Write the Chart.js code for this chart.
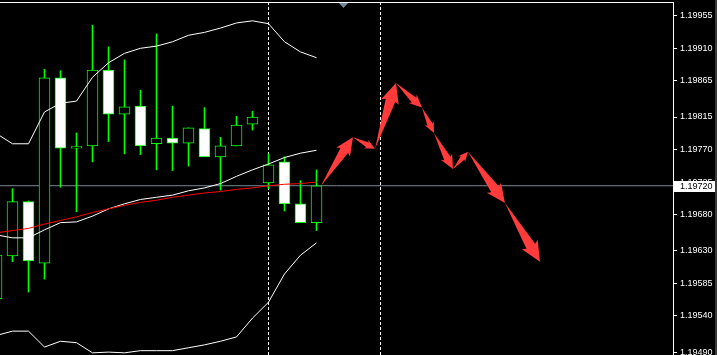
<!DOCTYPE html>
<html lang="en">
<head>
    <meta charset="UTF-8">
    <title>EURUSD forecast</title>
    <script src="https://cdn.jsdelivr.net/npm/chart.js"></script>
    <style>
        body {
            margin: 0;
            background: #000;
            overflow: hidden;
        }
        #priceChart {
            display: block;
            background: #000;
        }
    </style>
</head>
<body>
    <canvas id="priceChart" width="717" height="355"></canvas>

    <script>
        // candles, bar index 0..20 (index 0 is cut off at the left edge)
        const opens  = [1.19564, 1.19623, 1.19698, 1.19613, 1.19869, 1.19772, 1.19775, 1.19880, 1.19819, 1.19830, 1.19778, 1.19786, 1.19779, 1.19799, 1.19760, 1.19775, 1.19805, 1.19724, 1.19753, 1.19695, 1.19669];
        const highs  = [1.19630, 1.19716, 1.19699, 1.19881, 1.19879, 1.19793, 1.19942, 1.19912, 1.19894, 1.19852, 1.19930, 1.19830, 1.19800, 1.19828, 1.19787, 1.19816, 1.19823, 1.19764, 1.19760, 1.19727, 1.19742];
        const lows   = [1.19555, 1.19615, 1.19573, 1.19591, 1.19718, 1.19684, 1.19753, 1.19781, 1.19764, 1.19763, 1.19742, 1.19741, 1.19747, 1.19760, 1.19714, 1.19775, 1.19797, 1.19716, 1.19685, 1.19669, 1.19658];
        const closes = [1.19624, 1.19698, 1.19616, 1.19869, 1.19772, 1.19774, 1.19880, 1.19819, 1.19829, 1.19775, 1.19786, 1.19779, 1.19800, 1.19760, 1.19775, 1.19804, 1.19815, 1.19749, 1.19695, 1.19669, 1.19720];

        // bollinger bands + red moving average
        const bbUpper  = [1.19792, 1.19778, 1.19778, 1.19822, 1.19834, 1.19837, 1.19870, 1.19890, 1.19903, 1.19910, 1.19913, 1.19919, 1.19928, 1.19932, 1.19938, 1.19945, 1.19948, 1.19944, 1.19919, 1.19905, 1.19897];
        const bbMiddle = [1.19652, 1.19648, 1.19648, 1.19659, 1.19669, 1.19670, 1.19678, 1.19688, 1.19695, 1.19701, 1.19704, 1.19707, 1.19713, 1.19717, 1.19723, 1.19733, 1.19742, 1.19750, 1.19759, 1.19765, 1.19769];
        const bbLower  = [1.19513, 1.19519, 1.19519, 1.19497, 1.19505, 1.19503, 1.19489, 1.19490, 1.19489, 1.19492, 1.19492, 1.19492, 1.19496, 1.19500, 1.19505, 1.19511, 1.19537, 1.19559, 1.19598, 1.19624, 1.19641];
        const maRed    = [1.19655, 1.19658, 1.19661, 1.19667, 1.19672, 1.19677, 1.19683, 1.19688, 1.19693, 1.19697, 1.19700, 1.19704, 1.19707, 1.19710, 1.19712, 1.19715, 1.19717, 1.19720, 1.19722, 1.19723, 1.19725];

        // forecast arrows (x in bars, y in price)
        const arrowX = [20.28, 22.28, 23.66, 24.97, 26.59, 27.34, 28.53, 29.47, 31.78, 33.97];
        const arrowY = [1.19720, 1.19787, 1.19771, 1.19862, 1.19828, 1.19793, 1.19743, 1.19767, 1.19696, 1.19615];

        // vertical separators and price axis labels
        const separatorBars = [17, 24];
        const bidPrice = 1.19720;
        const yTicks = [1.19955, 1.19910, 1.19865, 1.19815, 1.19770, 1.19725, 1.19680, 1.19630, 1.19585, 1.19540, 1.19490];

        const xMin = 0.21875, xMax = 42.28125;
        const yMin = 1.19486, yMax = 1.19974;

        const green = '#00ff00';
        const bars = opens.map((o, i) => i);

        const wickData = bars.map(i => ({ x: i, y: [lows[i], highs[i]] }));
        const bodyData = bars.map(i => ({ x: i, y: [opens[i], closes[i]] }));
        const bodyFill = bars.map(i => closes[i] >= opens[i] ? '#000000' : '#ffffff');
        const line = (arr) => arr.map((v, i) => ({ x: i, y: v }));

        const datasets = [
            { type: 'line', data: arrowX.map((x, i) => ({ x: x, y: arrowY[i] })), showLine: false, pointRadius: 0, order: 0 },
            { type: 'line', data: line(maRed), borderColor: '#ff0000', borderWidth: 1, pointRadius: 0, order: 1 },
            { type: 'line', data: line(bbUpper), borderColor: '#ffffff', borderWidth: 1, pointRadius: 0, order: 2 },
            { type: 'line', data: line(bbMiddle), borderColor: '#ffffff', borderWidth: 1, pointRadius: 0, order: 2 },
            { type: 'line', data: line(bbLower), borderColor: '#ffffff', borderWidth: 1, pointRadius: 0, order: 2 },
            { type: 'bar', data: bodyData, backgroundColor: bodyFill, borderColor: green, borderWidth: 1, borderSkipped: false, barThickness: 11, grouped: false, order: 3 },
            { type: 'bar', data: wickData, backgroundColor: green, borderWidth: 0, barThickness: 1, grouped: false, order: 4 },
            { type: 'line', data: [{ x: xMin, y: bidPrice }, { x: xMax, y: bidPrice }], borderColor: '#778899', borderWidth: 1, pointRadius: 0, order: 6 }
        ];
        separatorBars.forEach(b => {
            datasets.push({ type: 'line', data: [{ x: b, y: yMin }, { x: b, y: yMax }], borderColor: '#ffffff', borderWidth: 1, borderDash: [3, 2], pointRadius: 0, order: 5 });
        });

        // draws the red forecast arrows between the path points
        const arrowPlugin = {
            id: 'arrowPlugin',
            afterDatasetsDraw(chart) {
                const pts = chart.getDatasetMeta(0).data;
                const ctx = chart.ctx;
                ctx.save();
                ctx.fillStyle = '#ff3b3b';
                for (let i = 0; i < pts.length - 1; i++) {
                    const a = pts[i], b = pts[i + 1];
                    const dx = b.x - a.x, dy = b.y - a.y;
                    const len = Math.sqrt(dx * dx + dy * dy);
                    const ux = dx / len, uy = dy / len;
                    const nx = -uy, ny = ux;
                    const head = Math.min(20, 5 + 0.22 * len);
                    const barb = head * 0.46;
                    const shaft = barb * 0.55;
                    const bx = b.x - ux * head, by = b.y - uy * head;
                    const jx = bx + ux * 2, jy = by + uy * 2;
                    ctx.beginPath();
                    ctx.moveTo(a.x, a.y);
                    ctx.lineTo(jx + nx * shaft, jy + ny * shaft);
                    ctx.lineTo(bx + nx * barb, by + ny * barb);
                    ctx.lineTo(b.x, b.y);
                    ctx.lineTo(bx - nx * barb, by - ny * barb);
                    ctx.lineTo(jx - nx * shaft, jy - ny * shaft);
                    ctx.closePath();
                    ctx.fill();
                }
                ctx.restore();
            }
        };

        // frame, bid label and the shift marker on top
        const framePlugin = {
            id: 'framePlugin',
            afterDraw(chart) {
                const ctx = chart.ctx;
                const area = chart.chartArea;
                const yScale = chart.scales.y;
                ctx.save();
                ctx.strokeStyle = '#ffffff';
                ctx.lineWidth = 1;
                ctx.beginPath();
                ctx.moveTo(0, area.top + 0.5);
                ctx.lineTo(area.right + 1, area.top + 0.5);
                ctx.stroke();

                ctx.strokeStyle = '#3a3a3a';
                ctx.lineWidth = 2;
                ctx.beginPath();
                ctx.moveTo(chart.width - 1, 0);
                ctx.lineTo(chart.width - 1, chart.height);
                ctx.stroke();

                ctx.fillStyle = '#778899';
                ctx.beginPath();
                ctx.moveTo(339, area.top + 1);
                ctx.lineTo(348, area.top + 1);
                ctx.lineTo(343.5, area.top + 6);
                ctx.closePath();
                ctx.fill();

                const py = Math.round(yScale.getPixelForValue(bidPrice));
                ctx.fillStyle = '#ffffff';
                ctx.fillRect(area.right + 1, py - 5, 41, 11);
                ctx.fillStyle = '#000000';
                ctx.font = '9px "Liberation Sans"';
                ctx.textBaseline = 'middle';
                ctx.fillText(bidPrice.toFixed(5), area.right + 7, py + 0.5);
                ctx.restore();
            }
        };

        const ctx = document.getElementById('priceChart').getContext('2d');
        new Chart(ctx, {
            type: 'bar',
            data: { datasets: datasets },
            options: {
                responsive: false,
                animation: false,
                layout: { padding: { top: 2, left: 0, right: 0, bottom: 0 }, autoPadding: false },
                plugins: { legend: { display: false }, tooltip: { enabled: false } },
                scales: {
                    x: { type: 'linear', min: xMin, max: xMax, offset: false, display: false },
                    y: {
                        position: 'right',
                        min: yMin,
                        max: yMax,
                        afterBuildTicks: s => { s.ticks = yTicks.map(v => ({ value: v })); },
                        afterFit: s => { s.width = 44; s.paddingTop = 0; s.paddingBottom = 0; },
                        grid: { display: true, drawOnChartArea: false, drawTicks: true, tickLength: 4, color: '#ffffff' },
                        border: { display: true, color: '#ffffff' },
                        ticks: {
                            color: '#ffffff',
                            font: { family: 'Liberation Sans', size: 9 },
                            padding: 3,
                            autoSkip: false,
                            callback: v => v.toFixed(5)
                        }
                    }
                }
            },
            plugins: [arrowPlugin, framePlugin]
        });
    </script>
</body>
</html>
